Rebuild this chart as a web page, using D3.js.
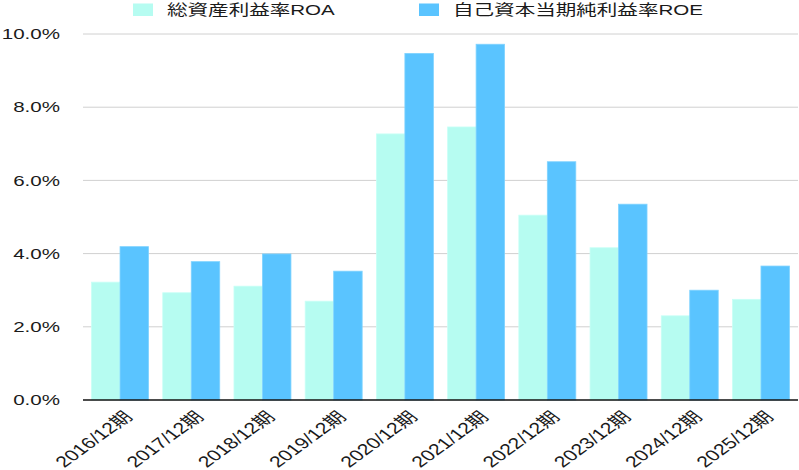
<!DOCTYPE html>
<html><head><meta charset="utf-8">
<script src="https://cdn.jsdelivr.net/npm/d3@7"></script>
<style>body{margin:0;background:#fff}svg{display:block}text{font-family:"Liberation Sans","Noto Sans CJK JP",sans-serif;fill:#1a1a1a}</style>
</head><body><svg id="c" width="799" height="470"></svg>
<script>
const categories = ["2016/12期","2017/12期","2018/12期","2019/12期","2020/12期","2021/12期","2022/12期","2023/12期","2024/12期","2025/12期"];
const roa = [3.22,2.93,3.11,2.70,7.27,7.46,5.05,4.16,2.30,2.75];
const roe = [4.19,3.78,3.99,3.52,9.47,9.72,6.51,5.35,3.00,3.66];
const seriesNames = ["総資産利益率ROA","自己資本当期純利益率ROE"];
const yTicks = [0,2,4,6,8,10];
const colors = ["#b6fcf1","#5ac4ff"];

(function(){
const svg = d3.select("#c");
const sx = 1.37;
const mLeft = 83, mRight = 798, mTop = 34, mBottom = 400;
const x = d3.scaleBand().domain(categories).range([mLeft, mRight]).paddingInner(0.2).paddingOuter(0.12);
const x1 = d3.scaleBand().domain([0,1]).range([0, x.bandwidth()]);
const y = d3.scaleLinear().domain([0,10]).range([mBottom, mTop]);

svg.append("g").selectAll("line").data(yTicks.filter(d=>d>0)).join("line")
  .attr("x1", mLeft).attr("x2", mRight).attr("y1", d=>y(d)).attr("y2", d=>y(d))
  .attr("stroke","#d0d0d0").attr("stroke-width",1);

svg.append("g").selectAll("text").data(yTicks).join("text")
  .attr("transform", d=>`translate(60,${y(d)}) scale(${sx},1)`)
  .attr("dy","0.35em").attr("text-anchor","end")
  .style("font-size","15px").text(d=>d.toFixed(1)+"%");

const data = categories.map((c,i)=>({c, v:[roa[i], roe[i]]}));
const g = svg.append("g");
data.forEach(d=>{
  d.v.forEach((v,k)=>{
    g.append("rect").attr("x", x(d.c)+x1(k)).attr("width", x1.bandwidth())
      .attr("y", y(v)).attr("height", y(0)-y(v)).attr("fill", colors[k])
      .attr("stroke", k===0? "#c8fff6":"#7fd3ff").attr("stroke-width",0.8);
  });
});

svg.append("line").attr("x1", mLeft).attr("x2", mRight).attr("y1", y(0)).attr("y2", y(0)).attr("stroke","#111").attr("stroke-width",1.5);

svg.append("g").selectAll("text").data(categories).join("text")
  .attr("transform", d=>`translate(${x(d)+x.bandwidth()/2+3},${y(0)+10}) scale(${sx},1) rotate(-45)`)
  .attr("text-anchor","end").attr("dy","0.7em").style("font-size","15.5px").text(d=>d);

const lg = [{x:133, tx:167},{x:419, tx:453}];
lg.forEach((l,k)=>{
  svg.append("rect").attr("x", l.x).attr("y", 3.5).attr("width", 20).attr("height", 12.5).attr("fill", colors[k]);
  svg.append("text").attr("transform", `translate(${l.tx},10) scale(${sx},1)`).attr("dy","0.35em").style("font-size","15px").text(seriesNames[k]);
});
})();
</script></body></html>
